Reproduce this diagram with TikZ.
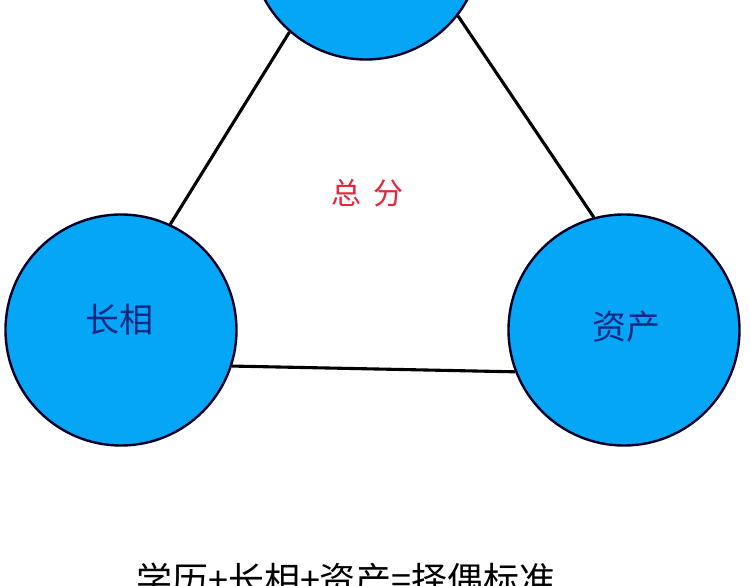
\documentclass[tikz,border=0pt]{standalone}
\usepackage{fontspec}
\setmainfont{Noto Sans CJK SC}
\definecolor{ballfill}{RGB}{5,166,245}
\definecolor{balltext}{RGB}{16,40,130}
\definecolor{totalred}{RGB}{228,38,58}
\tikzset{
  ball/.style={circle,draw=black!85!blue,line width=2.4pt,fill=ballfill,minimum size=231pt,inner sep=0pt},
  balllabel/.style={text=balltext,font=\fontsize{34pt}{36pt}\selectfont,inner sep=0pt},
  link/.style={draw=black,line width=3.1pt},
}
\begin{document}
\begin{tikzpicture}[x=1pt,y=-1pt]
\useasboundingbox (0,0) rectangle (750,586);
\clip (0,0) rectangle (750,586);
\fill[white] (0,0) rectangle (750,586);
\node[ball] (top) at (366,-56) {};
\node[ball] (left) at (121,330) {};
\node[ball] (right) at (624,330) {};
\draw[link] (top.229.2) -- (left.65.2);
\draw[link] (top.-38.9) -- (right.105.1);
\draw[link] (left.-18.4) -- (right.201.1);
\node[balllabel] (lt) at (119,320) {长相};
\node[balllabel] (rt) at (626,327) {资产};
\node[text=totalred,font=\fontsize{30pt}{32pt}\selectfont,inner sep=0pt] (total) at (367,193) {总\hspace{12pt}分};
\node[anchor=base,font=\fontsize{36pt}{38pt}\selectfont,inner sep=0pt] (formula) at (346,593) {学历+长相+资产=择偶标准};
\end{tikzpicture}
\end{document}
